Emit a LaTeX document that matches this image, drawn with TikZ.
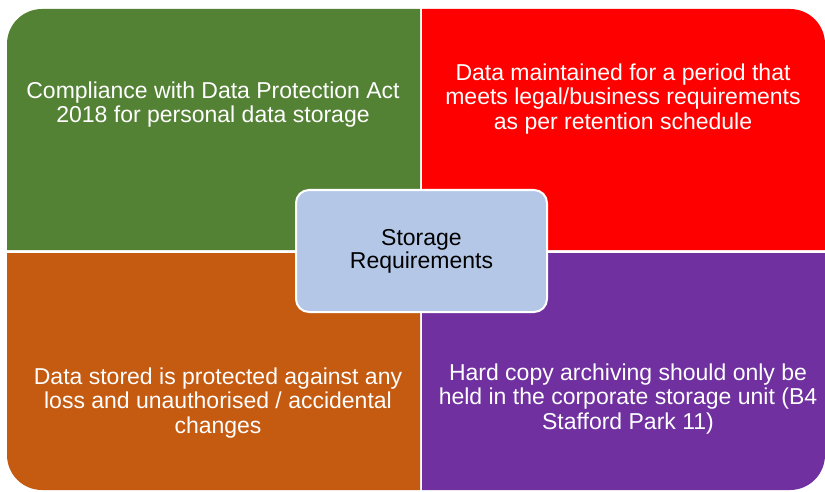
\documentclass[tikz,border=0pt]{standalone}
\usepackage{fontspec}
\setmainfont{Liberation Sans}
\usepackage{xcolor}
\usepackage{tikz}

\definecolor{qgreen}{HTML}{548235}
\definecolor{qred}{HTML}{FF0000}
\definecolor{qorange}{HTML}{C55A11}
\definecolor{qpurple}{HTML}{7030A0}
\definecolor{qblue}{HTML}{B4C7E7}

\begin{document}
\begin{tikzpicture}[x=1pt,y=1pt,
  quadtext/.style={text=white,align=center,anchor=base,inner sep=0pt,
    font=\fontsize{23}{24.5}\selectfont}]
\useasboundingbox (0,0) rectangle (825,491);

% four quadrants, each rounded on its outer corner only
\fill[qgreen] (7,241) -- (7,447) arc[start angle=180,end angle=90,radius=35]
  -- (420,482) -- (420,241) -- cycle;
\fill[qred] (422,241) -- (422,482) -- (790,482)
  arc[start angle=90,end angle=0,radius=35] -- (825,241) -- cycle;
\fill[qorange] (7,238) -- (7,36) arc[start angle=180,end angle=270,radius=35]
  -- (420,1) -- (420,238) -- cycle;
\fill[qpurple] (422,238) -- (422,1) -- (790,1)
  arc[start angle=270,end angle=360,radius=35] -- (825,36) -- (825,238) -- cycle;

% quadrant texts (base = last line)
\node[quadtext] (compliance) at (213,368)
  {Compliance with Data Protection Act\\2018 for personal data storage};
\node[quadtext] (retention) at (623,361.5)
  {Data maintained for a period that\\meets legal/business requirements\\as per retention schedule};
\node[quadtext] (protection) at (218,58)
  {Data stored is protected against any\\loss and unauthorised / accidental\\changes};
\node[quadtext] (archive) at (628,62)
  {Hard copy archiving should only be\\held in the corporate storage unit (B4\\Stafford Park 11)};

% centre box
\node[draw=white,line width=2pt,fill=qblue,rounded corners=13pt,
  minimum width=251pt,minimum height=122pt,align=center,inner sep=0pt,
  font=\fontsize{23}{23}\selectfont] (storage) at (421.5,240)
  {Storage\\Requirements};
\end{tikzpicture}
\end{document}
